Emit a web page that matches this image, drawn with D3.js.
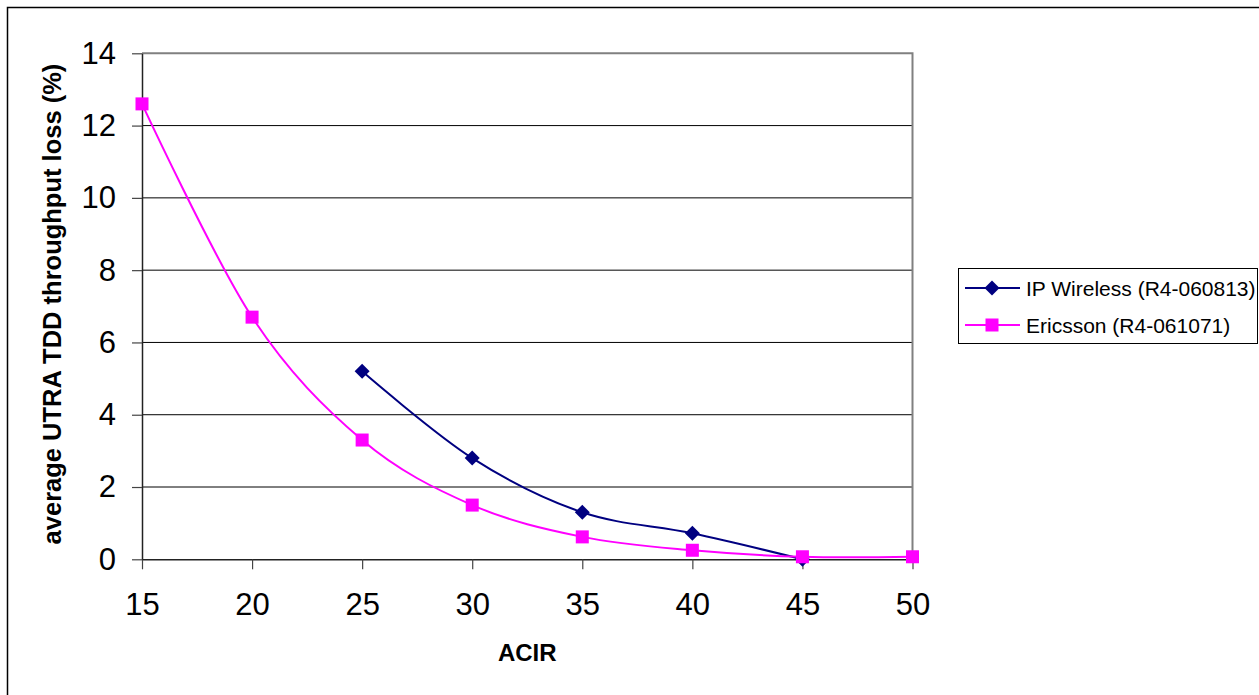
<!DOCTYPE html>
<html>
<head>
<meta charset="utf-8">
<script src="https://cdn.jsdelivr.net/npm/d3@7"></script>
<style>
  body { margin: 0; background: #fff; }
  svg text { font-family: Arial, "Liberation Sans", sans-serif; }
</style>
</head>
<body>
<div class="chart"></div>
<script>
// data
const acir = [15, 20, 25, 30, 35, 40, 45, 50];
const ipWireless = [null, null, 5.2, 2.8, 1.3, 0.72, 0.0, null];
const ericsson = [12.6, 6.7, 3.3, 1.5, 0.62, 0.25, 0.07, 0.07];
const yTicks = [0, 2, 4, 6, 8, 10, 12, 14];
const xTicks = [15, 20, 25, 30, 35, 40, 45, 50];

const series = [
    { name: 'IP Wireless (R4-060813)', values: ipWireless, color: '#000080', marker: 'diamond' },
    { name: 'Ericsson (R4-061071)', values: ericsson, color: '#ff00ff', marker: 'square' }
];

const W = 1259, H = 695;
const plot = { left: 142, right: 912.5, top: 53.3, bottom: 559.3 };

const svg = d3.select('.chart')
    .append('svg')
    .attr('width', W)
    .attr('height', H);

// outer frame
svg.append('rect')
    .attr('x', 7.5).attr('y', 7.5)
    .attr('width', W).attr('height', H)
    .attr('fill', 'none')
    .attr('stroke', '#000')
    .attr('stroke-width', 1.5);

// scales
const xScale = d3.scaleLinear().domain([15, 50]).range([plot.left, plot.right]);
const yScale = d3.scaleLinear().domain([0, 14]).range([plot.bottom, plot.top]);

// gridlines
svg.append('g')
    .selectAll('line')
    .data(yTicks.filter(d => d > 0 && d < 14))
    .enter()
    .append('line')
    .attr('x1', plot.left).attr('x2', plot.right)
    .attr('y1', d => yScale(d)).attr('y2', d => yScale(d))
    .attr('stroke', '#000')
    .attr('stroke-width', 1);

// plot border (top + right)
svg.append('path')
    .attr('d', `M${plot.left},${yScale(14)}H${plot.right}V${plot.bottom}`)
    .attr('fill', 'none')
    .attr('stroke', '#808080')
    .attr('stroke-width', 2);

// axes
const xAxis = d3.axisBottom(xScale)
    .tickValues(xTicks)
    .tickSizeInner(10)
    .tickSizeOuter(0)
    .tickPadding(24);

const xAxisDraw = svg.append('g')
    .attr('transform', `translate(0, ${plot.bottom})`)
    .call(xAxis);

const yAxis = d3.axisLeft(yScale)
    .tickValues(yTicks)
    .tickSizeInner(10)
    .tickSizeOuter(0)
    .tickPadding(16);

const yAxisDraw = svg.append('g')
    .attr('transform', `translate(${plot.left}, 0)`)
    .call(yAxis);

[xAxisDraw, yAxisDraw].forEach(g => {
    g.select('.domain').attr('stroke', '#222').attr('stroke-width', 1.5);
    g.selectAll('.tick line').attr('stroke', '#444').attr('stroke-width', 1.2);
    g.selectAll('.tick text')
        .attr('fill', '#000')
        .style('font-size', '31px')
        .style('font-family', 'Arial, "Liberation Sans", sans-serif');
});

// axis titles
svg.append('text')
    .attr('x', (plot.left + plot.right) / 2)
    .attr('y', 661)
    .attr('text-anchor', 'middle')
    .style('font-size', '24px')
    .style('font-weight', 'bold')
    .text('ACIR');

svg.append('text')
    .attr('transform', 'translate(61, 304) rotate(-90)')
    .attr('text-anchor', 'middle')
    .style('font-size', '25.5px')
    .style('font-weight', 'bold')
    .text('average UTRA TDD throughput loss (%)');

// lines
const lineGen = d3.line()
    .defined(d => d.y != null)
    .x(d => xScale(d.x))
    .y(d => yScale(d.y))
    .curve(d3.curveCardinal.tension(0));

const drawMarker = (sel, s) => {
    if (s.marker === 'square') {
        sel.append('rect')
            .attr('x', -6.5).attr('y', -6.5)
            .attr('width', 13).attr('height', 13)
            .attr('fill', s.color);
    } else {
        sel.append('path')
            .attr('d', 'M0,-7.5L7.5,0L0,7.5L-7.5,0Z')
            .attr('fill', s.color);
    }
};

const chartGroup = svg.append('g').attr('class', 'line-chart');

series.forEach(s => {
    const pts = acir.map((x, i) => ({ x, y: s.values[i] })).filter(d => d.y != null);
    chartGroup.append('path')
        .attr('d', lineGen(pts))
        .attr('fill', 'none')
        .attr('stroke', s.color)
        .attr('stroke-width', 2);
    pts.forEach(p => {
        const g = chartGroup.append('g')
            .attr('transform', `translate(${xScale(p.x)}, ${yScale(p.y)})`);
        drawMarker(g, s);
    });
});

// legend
const legend = svg.append('g').attr('class', 'legend');
legend.append('rect')
    .attr('x', 958.5).attr('y', 268.5)
    .attr('width', 299).attr('height', 75)
    .attr('fill', '#fff')
    .attr('stroke', '#000')
    .attr('stroke-width', 1);

series.forEach((s, i) => {
    const y = 288 + i * 37;
    legend.append('line')
        .attr('x1', 965).attr('x2', 1020)
        .attr('y1', y).attr('y2', y)
        .attr('stroke', s.color)
        .attr('stroke-width', 2);
    drawMarker(legend.append('g').attr('transform', `translate(992, ${y})`), s);
    legend.append('text')
        .attr('x', 1026)
        .attr('y', y + 7.5)
        .style('font-size', '21px')
        .text(s.name);
});
</script>
</body>
</html>
